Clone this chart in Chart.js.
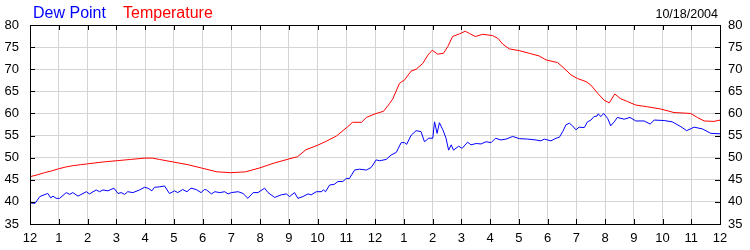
<!DOCTYPE html>
<html>
<head>
<meta charset="utf-8">
<title>Dew Point / Temperature</title>
<script src="https://cdn.jsdelivr.net/npm/chart.js@4"></script>
<style>
  body { margin: 0; background: #fff; }
  #wrap { width: 750px; height: 250px; }
</style>
</head>
<body>
<div id="wrap"><canvas id="myChart" width="750" height="250"></canvas></div>
<script>
// hours after midnight
let tempHours = [0, 0.25, 0.5, 0.75, 1, 1.25, 1.5, 1.75, 2, 2.5, 3, 3.5, 4, 4.25, 4.5, 5, 5.5, 6, 6.5, 7, 7.5, 8, 8.5, 9, 9.3, 9.6, 10, 10.3, 10.66, 11.05, 11.22, 11.53, 11.7, 12, 12.3, 12.5, 12.62, 12.85, 13.03, 13.26, 13.43, 13.66, 13.84, 13.99, 14.18, 14.38, 14.53, 14.7, 14.94, 15.14, 15.28, 15.49, 15.75, 16.09, 16.27, 16.44, 16.67, 17.02, 17.37, 17.71, 17.95, 18.35, 18.58, 18.82, 19.04, 19.34, 19.51, 19.74, 19.97, 20.15, 20.34, 20.55, 20.78, 21.07, 21.48, 21.94, 22.4, 22.98, 23.21, 23.45, 23.79, 24];
let tempValues = [45.7, 46.1, 46.6, 47.0, 47.5, 47.9, 48.2, 48.4, 48.6, 49.0, 49.3, 49.6, 49.9, 49.9, 49.6, 49.0, 48.4, 47.6, 46.8, 46.6, 46.8, 47.7, 48.8, 49.7, 50.2, 51.8, 52.8, 53.7, 54.9, 57.0, 58.0, 58.0, 59.1, 59.9, 60.5, 62.2, 63.3, 66.8, 67.6, 69.6, 70.0, 71.3, 73.2, 74.3, 73.4, 73.6, 75.1, 77.4, 78.0, 78.6, 78.1, 77.4, 77.9, 77.6, 77.0, 75.7, 74.6, 74.2, 73.6, 73.0, 72.1, 71.5, 70.2, 68.7, 67.9, 67.2, 66.4, 64.6, 63.0, 62.4, 64.4, 63.3, 62.7, 61.9, 61.5, 61.0, 60.2, 60.0, 59.1, 58.3, 58.2, 58.5];

let dewHours = [0, 0.05, 0.18, 0.34, 0.57, 0.62, 0.72, 0.8, 0.91, 1.03, 1.26, 1.38, 1.49, 1.67, 1.96, 2.07, 2.3, 2.42, 2.54, 2.71, 2.92, 3.06, 3.17, 3.29, 3.4, 3.58, 3.81, 3.98, 4.1, 4.24, 4.33, 4.5, 4.68, 4.85, 5.03, 5.14, 5.31, 5.46, 5.6, 5.78, 5.95, 6.07, 6.14, 6.31, 6.43, 6.6, 6.77, 6.89, 7.0, 7.24, 7.41, 7.58, 7.76, 7.93, 8.16, 8.28, 8.51, 8.74, 8.92, 9.03, 9.2, 9.32, 9.49, 9.67, 9.78, 9.96, 10.13, 10.21, 10.28, 10.42, 10.59, 10.71, 10.88, 11.0, 11.11, 11.29, 11.46, 11.7, 11.87, 12.04, 12.16, 12.39, 12.56, 12.74, 12.91, 13.03, 13.1, 13.26, 13.43, 13.6, 13.72, 13.87, 14.01, 14.07, 14.16, 14.24, 14.36, 14.47, 14.56, 14.65, 14.73, 14.91, 15.03, 15.22, 15.34, 15.52, 15.69, 15.86, 16.04, 16.19, 16.38, 16.56, 16.79, 17.02, 17.31, 17.6, 17.77, 17.89, 18.12, 18.3, 18.41, 18.53, 18.64, 18.76, 18.87, 18.99, 19.1, 19.28, 19.39, 19.51, 19.62, 19.72, 19.76, 19.86, 19.95, 20.09, 20.2, 20.32, 20.43, 20.67, 20.87, 21.07, 21.36, 21.57, 21.71, 22.06, 22.34, 22.64, 22.84, 23.1, 23.39, 23.68, 24];
let dewValues = [40.3, 39.7, 39.7, 41.2, 41.8, 41.9, 40.9, 41.3, 40.8, 40.8, 42.1, 41.7, 42.1, 41.3, 42.3, 41.8, 42.7, 42.3, 42.7, 42.5, 43.1, 41.9, 42.1, 41.7, 42.3, 42.1, 42.7, 43.3, 43.1, 42.5, 43.3, 43.4, 43.6, 41.9, 42.5, 42.1, 42.8, 42.3, 43.1, 42.8, 42.1, 42.8, 42.7, 41.8, 42.3, 42.1, 42.3, 41.8, 42.1, 42.3, 41.9, 40.8, 42.1, 42.1, 43.1, 42.1, 41.0, 41.6, 41.8, 41.2, 42.1, 40.8, 41.2, 41.8, 41.6, 42.3, 42.3, 42.7, 42.3, 43.8, 44.0, 44.6, 44.6, 45.3, 45.3, 47.2, 47.4, 47.2, 47.8, 49.5, 49.3, 49.6, 50.6, 51.2, 53.4, 53.4, 53.0, 55.1, 56.1, 55.9, 53.6, 54.4, 54.4, 58.1, 55.5, 57.9, 56.3, 54.4, 51.7, 52.9, 51.7, 52.6, 52.1, 53.5, 52.9, 53.2, 53.1, 53.6, 53.4, 54.4, 54.0, 54.2, 54.8, 54.3, 54.2, 54.0, 53.8, 54.2, 53.8, 54.4, 54.6, 55.9, 57.4, 57.8, 57.2, 56.3, 56.9, 56.8, 58.1, 58.5, 59.3, 59.4, 59.9, 59.3, 60.0, 58.9, 57.2, 58.1, 59.1, 58.7, 59.1, 58.3, 58.3, 57.6, 58.5, 58.4, 58.1, 57.0, 56.1, 56.9, 56.5, 55.5, 55.4];

// tick labels
let hourLabels = ['12', '1', '2', '3', '4', '5', '6', '7', '8', '9', '10', '11', '12', '1', '2', '3', '4', '5', '6', '7', '8', '9', '10', '11', '12'];
let yTicks = [35, 40, 45, 50, 55, 60, 65, 70, 75, 80];
let dateText = '10/18/2004';

function toPoints(xs, ys) {
  let pts = [];
  for (let i = 0; i < xs.length; i++) {
    pts.push({ x: xs[i], y: ys[i] });
  }
  return pts;
}

let fontFamily = "Arial, 'Liberation Sans', sans-serif";

// title text, frame and the little inside tick marks
let extrasPlugin = {
  id: 'extras',
  afterDraw(chart) {
    let ctx = chart.ctx;
    let area = chart.chartArea;
    ctx.save();
    ctx.font = '16px ' + fontFamily;
    ctx.textBaseline = 'alphabetic';
    ctx.textAlign = 'left';
    ctx.fillStyle = '#0000ff';
    ctx.fillText('Dew Point', 33, 18);
    ctx.fillStyle = '#ff0000';
    ctx.fillText('Temperature', 123, 18);
    ctx.font = '12.5px ' + fontFamily;
    ctx.fillStyle = '#000';
    ctx.textAlign = 'right';
    ctx.fillText(dateText, 718, 18);

    ctx.strokeStyle = '#000';
    ctx.lineWidth = 1;
    ctx.beginPath();
    let x = chart.scales.x;
    for (let h = 0; h < hourLabels.length; h++) {
      let px = Math.round(x.getPixelForValue(h)) + 0.5;
      ctx.moveTo(px, area.top);
      ctx.lineTo(px, area.top + 5);
      ctx.moveTo(px, area.bottom);
      ctx.lineTo(px, area.bottom - 5);
    }
    let y = chart.scales.y;
    for (let i = 0; i < yTicks.length; i++) {
      let py = Math.round(y.getPixelForValue(yTicks[i])) + 0.5;
      ctx.moveTo(area.left, py);
      ctx.lineTo(area.left + 5, py);
      ctx.moveTo(area.right, py);
      ctx.lineTo(area.right - 5, py);
    }
    ctx.stroke();
    ctx.strokeRect(Math.round(area.left) + 0.5, Math.round(area.top) + 0.5,
      Math.round(area.right - area.left), Math.round(area.bottom - area.top));
    ctx.restore();
  }
};

let canvasChart = document.getElementById('myChart');
let chart = new Chart(canvasChart, {
  type: 'line',
  data: {
    datasets: [
      {
        label: 'Dew Point',
        data: toPoints(dewHours, dewValues),
        borderColor: '#0000ff',
        borderWidth: 1,
        pointRadius: 0,
        tension: 0,
        fill: false
      },
      {
        label: 'Temperature',
        data: toPoints(tempHours, tempValues),
        borderColor: '#ff0000',
        borderWidth: 1,
        pointRadius: 0,
        tension: 0,
        fill: false
      }
    ]
  },
  options: {
    responsive: false,
    animation: false,
    layout: { padding: { top: 25, left: 0, right: 0, bottom: 0 } },
    plugins: {
      legend: { display: false },
      tooltip: { enabled: false }
    },
    scales: {
      x: {
        type: 'linear',
        min: 0,
        max: 24,
        afterFit(scale) { scale.height = 26; },
        grid: { color: '#d4d4d4', drawTicks: false },
        border: { color: '#000' },
        ticks: {
          stepSize: 1,
          autoSkip: false,
          maxRotation: 0,
          padding: 7,
          color: '#000',
          font: { family: fontFamily, size: 13 },
          callback: function (value) { return hourLabels[value]; }
        }
      },
      y: {
        position: 'left',
        min: 35,
        max: 80,
        afterFit(scale) { scale.width = 30; },
        grid: { color: '#d4d4d4', drawTicks: false },
        border: { color: '#000' },
        ticks: {
          stepSize: 5,
          padding: 11,
          color: '#000',
          font: { family: fontFamily, size: 13 }
        }
      },
      y2: {
        position: 'right',
        min: 35,
        max: 80,
        afterFit(scale) { scale.width = 30; },
        grid: { display: false, drawTicks: false },
        border: { color: '#000' },
        ticks: {
          stepSize: 5,
          padding: 8,
          color: '#000',
          font: { family: fontFamily, size: 13 }
        }
      }
    }
  },
  plugins: [extrasPlugin]
});
</script>
</body>
</html>
